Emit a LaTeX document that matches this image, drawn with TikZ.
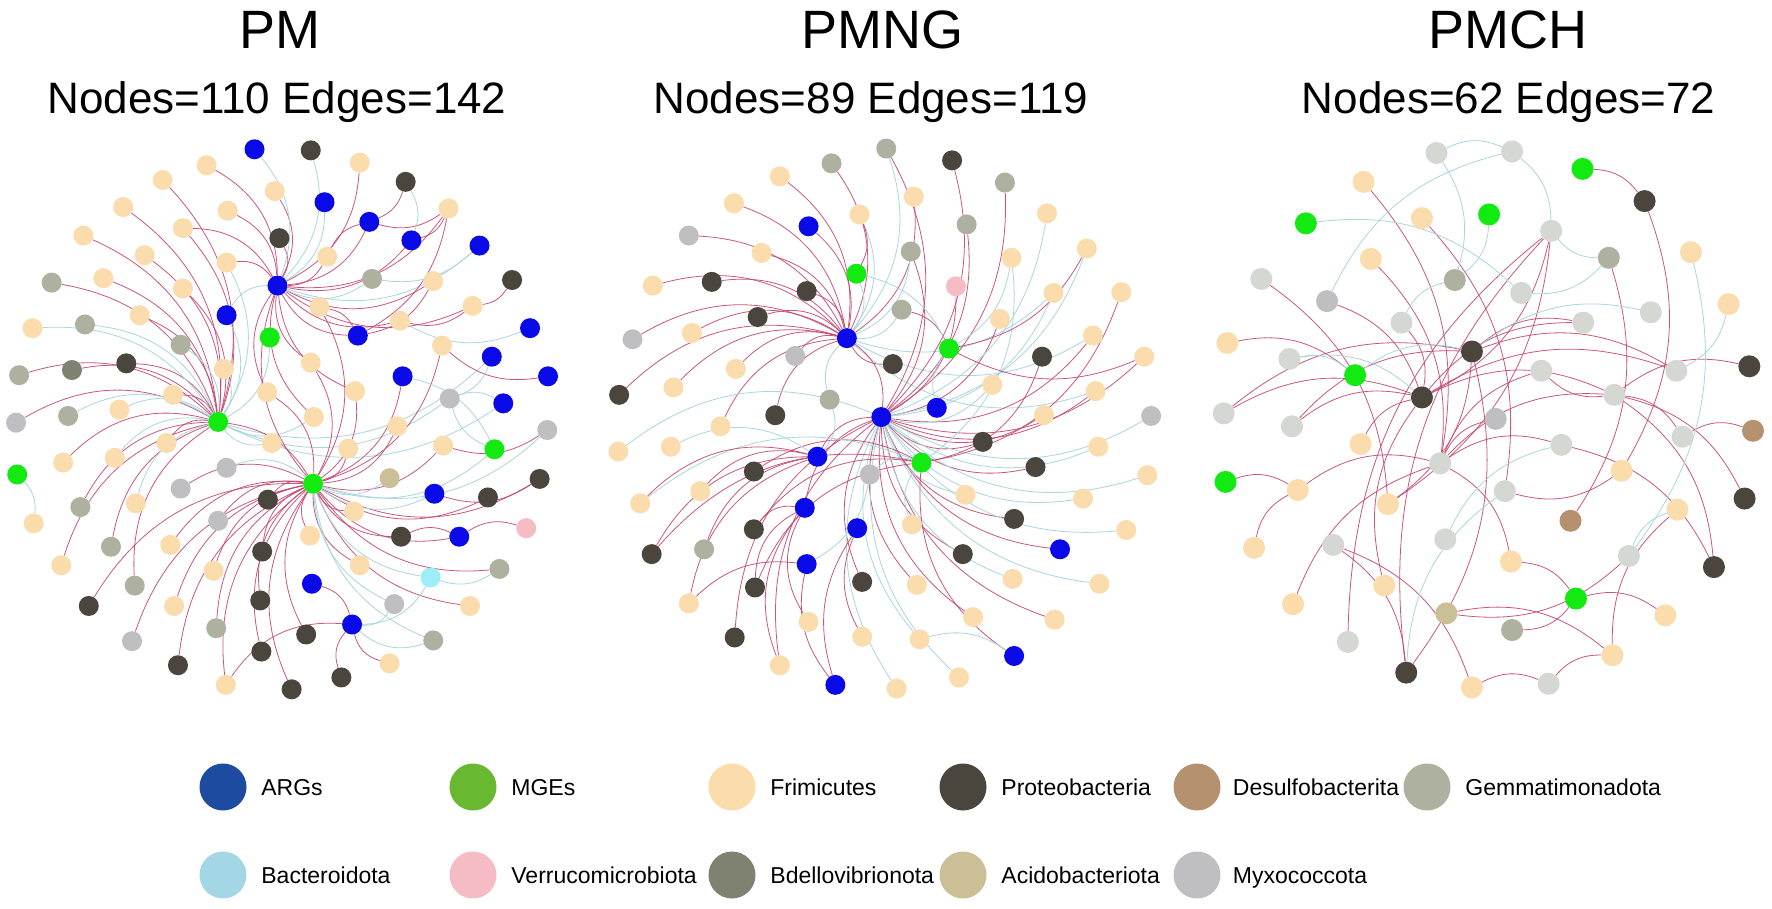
\documentclass[tikz,border=0pt]{standalone}
\usepackage{fontspec}
\setmainfont{Liberation Sans}
\usetikzlibrary{positioning}

\definecolor{argnet}{HTML}{0A0AE8}
\definecolor{mgenet}{HTML}{12EA12}
\definecolor{firmcol}{HTML}{FBDCAC}
\definecolor{proteocol}{HTML}{4B463D}
\definecolor{gemmacol}{HTML}{AEB1A0}
\definecolor{myxocol}{HTML}{BFBFC2}
\definecolor{bdellocol}{HTML}{7F8270}
\definecolor{acidocol}{HTML}{CBBF98}
\definecolor{desulfocol}{HTML}{B69170}
\definecolor{bacteronet}{HTML}{9DEEF8}
\definecolor{verrucol}{HTML}{F5BCC6}
\definecolor{palecol}{HTML}{D5D7D2}
\definecolor{argleg}{HTML}{1D4BA0}
\definecolor{mgeleg}{HTML}{69B832}
\definecolor{bacteroleg}{HTML}{A4D7E6}
\definecolor{linkred}{HTML}{C4456E}
\definecolor{linkblue}{HTML}{A9D6DF}

\pgfdeclarelayer{paper}
\pgfdeclarelayer{links}
\pgfsetlayers{paper,links,main}

\tikzset{
  nd/.style={circle, inner sep=0pt, minimum size=20pt},
  arg/.style={nd, fill=argnet},
  mge/.style={nd, fill=mgenet},
  firm/.style={nd, fill=firmcol},
  proteo/.style={nd, fill=proteocol},
  gemma/.style={nd, fill=gemmacol},
  myxo/.style={nd, fill=myxocol},
  bdello/.style={nd, fill=bdellocol},
  acido/.style={nd, fill=acidocol},
  desulfo/.style={nd, fill=desulfocol},
  bactero/.style={nd, fill=bacteronet},
  verru/.style={nd, fill=verrucol},
  pale/.style={nd, fill=palecol},
  redlink/.style={draw=linkred, line width=0.8pt, draw opacity=0.9},
  bluelink/.style={draw=linkblue, line width=0.8pt},
  legdot/.style={circle, inner sep=0pt, minimum size=47pt},
  legtxt/.style={inner sep=0pt, text height=16.5pt, text depth=0pt, font=\fontsize{23}{27}\selectfont},
  ttl/.style={anchor=base, inner sep=0pt, font=\fontsize{54}{60}\selectfont},
  subttl/.style={anchor=base, inner sep=0pt, font=\fontsize{44}{50}\selectfont}
}

\begin{document}
\begin{tikzpicture}[x=1pt, y=-1pt]
\begin{pgfonlayer}{paper}
\fill[white, use as bounding box] (0,0) rectangle (1772,909);
\end{pgfonlayer}

% titles
\node[ttl] (tPM) at (280,49) {PM};
\node[subttl] (sPM) at (277,113.5) {Nodes=110 Edges=142};
\node[ttl] (tPMNG) at (882.6,49) {PMNG};
\node[subttl] (sPMNG) at (871,113.5) {Nodes=89 Edges=119};
\node[ttl] (tPMCH) at (1508,49) {PMCH};
\node[subttl] (sPMCH) at (1508.6,113.5) {Nodes=62 Edges=72};

% PM network
\begin{scope}[shift={(0,130)}, x=0.3827pt, y=-0.3704pt]
\foreach \n/\x/\y/\k in {1/665/52/arg, 2/812/55/proteo, 3/540/95/firm, 4/940/88/firm, 5/425/135/firm,
  6/1060/140/proteo, 7/718/165/firm, 8/848/195/arg, 9/322/208/firm, 10/595/218/firm, 11/1172/212/firm,
  12/965/248/arg, 13/478/265/firm, 14/218/285/firm, 15/730/292/proteo, 16/1075/298/arg, 17/1253/312/arg,
  18/378/338/firm, 19/855/342/firm, 20/592/358/firm, 21/270/400/firm, 22/135/412/gemma, 23/972/402/gemma,
  24/1132/408/firm, 25/1338/405/proteo, 26/725/420/arg, 27/478/428/firm, 28/835/478/firm, 29/1235/475/firm,
  30/592/500/arg, 31/365/500/firm, 32/85/535/firm, 33/222/525/gemma, 34/1045/515/firm, 35/935/555/arg,
  36/1385/535/arg, 37/705/560/mge, 38/472/580/gemma, 39/1155/582/firm, 40/1285/612/arg, 41/330/630/proteo,
  42/188/648/bdello, 43/50/662/gemma, 44/812/628/firm, 45/585/645/firm, 46/1052/665/arg, 47/1432/665/arg,
  48/452/715/firm, 49/698/708/firm, 50/928/705/firm, 51/1175/725/myxo, 52/1315/738/arg, 53/312/755/firm,
  54/178/772/gemma, 55/42/790/myxo, 56/570/788/mge, 57/820/775/firm, 58/1038/800/firm, 59/1430/810/myxo,
  60/435/845/firm, 61/710/845/firm, 62/910/860/firm, 63/1158/852/firm, 64/1292/862/mge, 65/165/898/firm,
  66/300/885/firm, 67/45/930/mge, 68/592/912/myxo, 69/818/955/mge, 70/1018/940/acido, 71/472/968/myxo,
  72/1410/942/proteo, 73/1135/982/arg, 74/1275/992/proteo, 75/700/998/proteo, 76/210/1018/gemma,
  77/355/1008/firm, 78/925/1030/firm, 79/570/1055/myxo, 80/88/1062/firm, 81/1048/1098/proteo,
  82/1200/1098/arg, 83/1375/1075/verru, 84/810/1095/firm, 85/290/1125/gemma, 86/445/1120/firm,
  87/685/1138/proteo, 88/940/1175/firm, 89/160/1175/firm, 90/558/1190/firm, 91/1305/1185/gemma,
  92/1125/1208/bactero, 93/815/1225/arg, 94/352/1230/gemma, 95/232/1285/proteo, 96/455/1285/firm,
  97/680/1270/proteo, 98/1030/1280/myxo, 99/1228/1285/firm, 100/920/1335/arg, 101/565/1345/gemma,
  102/345/1380/myxo, 103/800/1362/proteo, 104/1132/1378/gemma, 105/465/1445/proteo, 106/683/1408/proteo,
  107/1018/1440/firm, 108/892/1478/proteo, 109/590/1498/firm, 110/762/1510/proteo}
  \node[\k] (a\n) at (\x,\y) {};
\begin{pgfonlayer}{links}
\foreach \l in {22,41,42,43,55,65,76,85,94,13,31,48,60,18,21,27,5,9,89,14}
  \draw[redlink] (a\l) to[bend left=30] (a56);
\foreach \l in {33,38,54,66,77,53,20,30,37,61,51,57,45,32,40,52}
  \draw[bluelink] (a\l) to[bend left=30] (a56);
\foreach \l in {105,102,101,96,86,87,97,106,103,109,110,88,78,81,82,74,72,63,58,62,50,44,28,49,90,71,79,75,99,84,91,95,46,39}
  \draw[redlink] (a\l) to[bend left=30] (a69);
\foreach \l in {98,73,104,92,64,68,70,59}
  \draw[bluelink] (a\l) to[bend left=30] (a69);
\foreach \l in {3,10,7,15,19,35,34,29,24,11,4,12,16,20,13,44,49,50,57,69}
  \draw[redlink] (a\l) to[bend left=30] (a26);
\foreach \l in {1,8,23,17,2,30}
  \draw[bluelink] (a\l) to[bend left=30] (a26);
\foreach \l in {107,108,93,109}
  \draw[redlink] (a\l) to[bend left=30] (a100);
\foreach \l in {104,98,92}
  \draw[bluelink] (a\l) to[bend left=30] (a100);
\foreach \s/\t in {11/12, 11/16, 11/35, 25/29, 24/35, 29/34, 47/39, 82/83, 81/82, 72/73, 59/63, 19/12, 28/35, 6/12, 56/69}
  \draw[redlink] (a\s) to[bend left=25] (a\t);
\foreach \s/\t in {6/16, 40/51, 46/64, 64/51, 51/52, 67/80, 36/34, 17/23, 91/92}
  \draw[bluelink] (a\s) to[bend left=25] (a\t);
\end{pgfonlayer}
\end{scope}

% PMNG network
\begin{scope}[shift={(600,130)}, x=0.3827pt, y=-0.3704pt]
\foreach \n/\x/\y/\k in {1/748/50/gemma, 2/605/90/gemma, 3/920/82/proteo, 4/470/125/firm, 5/1058/142/gemma,
  6/820/180/firm, 7/350/198/firm, 8/678/228/firm, 9/1168/225/firm, 10/545/260/arg, 11/958/255/gemma,
  12/232/285/myxo, 13/1272/320/firm, 14/422/332/firm, 15/812/328/gemma, 16/1075/345/firm, 17/670/388/mge,
  18/138/420/firm, 19/292/410/proteo, 20/540/435/proteo, 21/930/422/verru, 22/1185/440/firm,
  23/1362/438/firm, 24/788/485/gemma, 25/412/505/proteo, 26/1045/510/firm, 27/240/548/firm, 28/645/562/arg,
  29/85/565/myxo, 30/912/590/mge, 31/1288/555/firm, 32/510/610/myxo, 33/765/632/proteo, 34/1155/612/proteo,
  35/1422/612/firm, 36/355/645/firm, 37/192/695/firm, 38/1025/688/firm, 39/50/715/proteo, 40/1295/705/firm,
  41/600/728/gemma, 42/880/750/arg, 43/735/775/arg, 44/458/770/proteo, 45/315/800/firm, 46/1160/770/firm,
  47/1440/772/myxo, 48/48/868/firm, 49/185/855/firm, 50/1000/842/proteo, 51/1302/855/firm, 52/568/882/arg,
  53/840/898/mge, 54/1138/910/proteo, 55/402/922/proteo, 56/705/930/myxo, 57/1430/932/firm, 58/262/975/firm,
  59/955/985/firm, 60/105/1008/firm, 61/1262/995/firm, 62/535/1020/arg, 63/1082/1050/proteo,
  64/402/1078/proteo, 65/672/1075/arg, 66/815/1065/firm, 67/1375/1080/firm, 68/1202/1132/arg,
  69/135/1145/proteo, 70/272/1132/gemma, 71/540/1172/arg, 72/948/1145/proteo, 73/1078/1212/firm,
  74/1305/1225/firm, 75/828/1228/firm, 76/405/1235/proteo, 77/685/1220/proteo, 78/232/1278/firm,
  79/975/1315/firm, 80/1188/1322/firm, 81/545/1328/firm, 82/352/1370/proteo, 83/685/1368/firm,
  84/835/1375/firm, 85/1082/1420/arg, 86/470/1445/firm, 87/938/1478/firm, 88/615/1498/arg, 89/775/1508/firm}
  \node[\k] (b\n) at (\x,\y) {};
\begin{pgfonlayer}{links}
\foreach \l in {2,4,7,10,12,14,18,19,20,25,27,36,37,39,44,45,6,33,29,32}
  \draw[redlink] (b\l) to[bend left=30] (b28);
\foreach \l in {41,24,15,17,8,1,22,31,40}
  \draw[bluelink] (b\l) to[bend left=30] (b28);
\foreach \l in {1,3,5,11,15,21,26,31,35,40,46,50,54,63,68,72,75,77,79,80,86,82,28,52,62}
  \draw[redlink] (b\l) to[bend left=30] (b43);
\foreach \l in {9,13,22,38,47,51,57,59,61,67,73,74,84,87,89,48}
  \draw[bluelink] (b\l) to[bend left=30] (b43);
\foreach \l in {23,34,64,76,69,85,55}
  \draw[redlink] (b\l) to[bend left=30] (b53);
\foreach \l in {16,66,56,60}
  \draw[bluelink] (b\l) to[bend left=30] (b53);
\foreach \l in {60,69,58,70,78}
  \draw[redlink] (b\l) to[bend left=30] (b52);
\foreach \l in {49,41}
  \draw[bluelink] (b\l) to[bend left=30] (b52);
\foreach \l in {64,76,81,86}
  \draw[redlink] (b\l) to[bend left=30] (b62);
\foreach \s/\t in {83/65, 88/65, 24/30, 35/30, 13/30, 78/71, 88/71, 8/17}
  \draw[redlink] (b\s) to[bend left=25] (b\t);
\foreach \s/\t in {17/30, 42/30, 16/30, 56/71, 84/85}
  \draw[bluelink] (b\s) to[bend left=25] (b\t);
\end{pgfonlayer}
\end{scope}

% PMCH network
\begin{scope}[shift={(1200,130)}, x=0.365pt, y=-0.3704pt, nd/.append style={minimum size=22pt}]
\foreach \n/\x/\y/\k in {1/648/62/pale, 2/855/58/pale, 3/1048/105/mge, 4/448/140/firm, 5/1218/192/proteo,
  6/608/238/firm, 7/792/228/mge, 8/290/252/mge, 9/962/272/pale, 10/1345/330/firm, 11/468/348/firm,
  12/1120/345/gemma, 13/168/402/pale, 14/698/405/gemma, 15/880/440/pale, 16/348/462/myxo, 17/1448/470/firm,
  18/1235/492/pale, 19/552/520/pale, 20/1050/520/pale, 21/75/575/firm, 22/745/598/proteo, 23/245/618/pale,
  24/1505/638/proteo, 25/425/662/mge, 26/935/650/pale, 27/1305/650/pale, 28/608/722/proteo, 29/1135/715/pale,
  30/65/765/pale, 31/810/780/myxo, 32/252/800/pale, 33/990/850/pale, 34/1322/828/pale, 35/1515/812/desulfo,
  36/440/848/firm, 37/658/900/pale, 38/1155/920/firm, 39/70/950/mge, 40/268/972/firm, 41/835/975/pale,
  42/1492/995/proteo, 43/515/1010/firm, 44/1308/1025/firm, 45/1015/1055/desulfo, 46/148/1128/firm,
  47/365/1120/pale, 48/672/1105/pale, 49/1175/1150/pale, 50/852/1165/firm, 51/1408/1180/proteo,
  52/505/1230/firm, 53/255/1280/firm, 54/675/1305/acido, 55/1030/1265/mge, 56/1275/1310/firm,
  57/855/1350/gemma, 58/405/1382/pale, 59/1130/1418/firm, 60/565/1465/proteo, 61/745/1505/firm, 62/955/1495/pale}
  \node[\k] (c\n) at (\x,\y) {};
\begin{pgfonlayer}{links}
\foreach \s/\t in {3/5, 9/28, 9/43, 16/28, 4/37, 6/41, 11/37, 13/43, 21/25, 30/28, 30/22, 32/28, 32/22,
  36/28, 39/40, 40/37, 46/40, 53/37, 28/27, 28/20, 22/27, 22/20, 22/43, 22/60, 29/24, 29/34, 29/42, 29/26,
  29/51, 34/35, 33/51, 38/41, 37/50, 37/31, 37/26, 37/33, 47/60, 47/61, 49/54, 55/57, 55/56, 50/55, 59/44,
  61/62, 62/59, 5/38, 12/45, 52/28, 54/59, 19/28, 58/9, 60/9, 37/29, 28/29}
  \draw[redlink] (c\s) to[bend left=25] (c\t);
\foreach \s/\t in {1/2, 1/14, 2/9, 12/15, 12/9, 7/14, 8/15, 16/2, 23/28, 23/25, 25/22, 22/18, 48/33, 49/44,
  17/27, 10/49, 60/41, 19/14}
  \draw[bluelink] (c\s) to[bend left=25] (c\t);
\end{pgfonlayer}
\end{scope}

% legend
\node[legdot, fill=argleg] (lArg) at (223,787) {};
\node[legtxt, right=14.5pt of lArg] (tArg) {ARGs};
\node[legdot, fill=mgeleg] (lMge) at (473,787) {};
\node[legtxt, right=14.5pt of lMge] (tMge) {MGEs};
\node[legdot, fill=firmcol] (lFirm) at (732,787) {};
\node[legtxt, right=14.5pt of lFirm] (tFirm) {Frimicutes};
\node[legdot, fill=proteocol] (lProteo) at (963,787) {};
\node[legtxt, right=14.5pt of lProteo] (tProteo) {Proteobacteria};
\node[legdot, fill=desulfocol] (lDesulfo) at (1197,787) {};
\node[legtxt, right=12pt of lDesulfo] (tDesulfo) {Desulfobacterita};
\node[legdot, fill=gemmacol] (lGemma) at (1427,787) {};
\node[legtxt, right=14.5pt of lGemma] (tGemma) {Gemmatimonadota};
\node[legdot, fill=bacteroleg] (lBactero) at (223,875) {};
\node[legtxt, right=14.5pt of lBactero] (tBactero) {Bacteroidota};
\node[legdot, fill=verrucol] (lVerru) at (473,875) {};
\node[legtxt, right=14.5pt of lVerru] (tVerru) {Verrucomicrobiota};
\node[legdot, fill=bdellocol] (lBdello) at (732,875) {};
\node[legtxt, right=14.5pt of lBdello] (tBdello) {Bdellovibrionota};
\node[legdot, fill=acidocol] (lAcido) at (963,875) {};
\node[legtxt, right=14.5pt of lAcido] (tAcido) {Acidobacteriota};
\node[legdot, fill=myxocol] (lMyxo) at (1197,875) {};
\node[legtxt, right=12pt of lMyxo] (tMyxo) {Myxococcota};
\end{tikzpicture}
\end{document}
